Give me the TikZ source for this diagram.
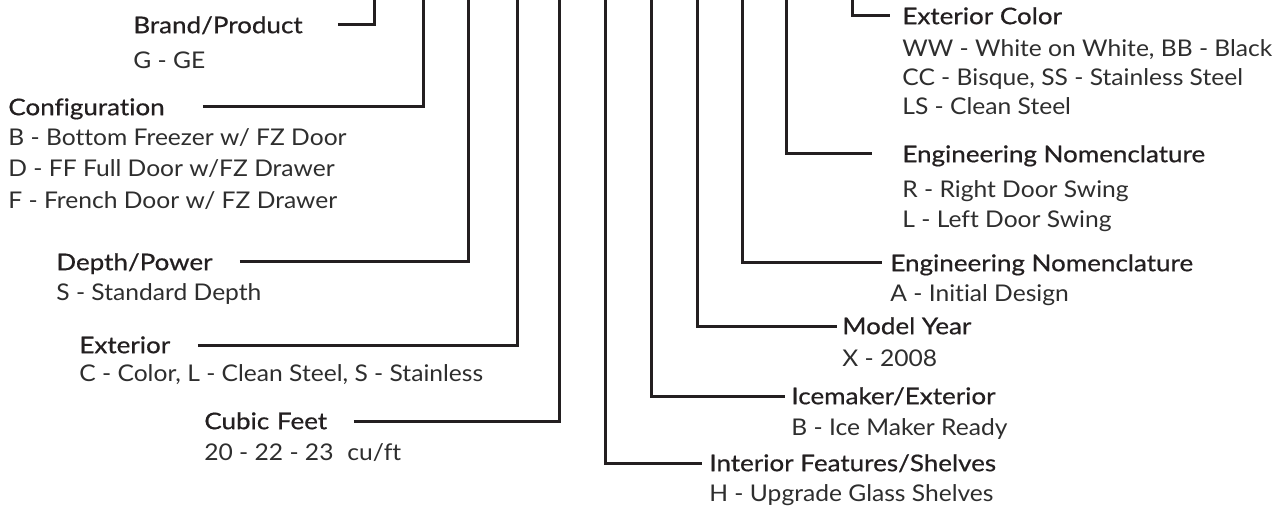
\documentclass[tikz,border=0pt]{standalone}
\usepackage{fontspec}
\setmainfont{Lato}[FakeStretch=1.07, Ligatures=NoCommon]
\newfontfamily\titlefont{Lato}[FakeBold=0.6, FakeStretch=1.13, Ligatures=NoCommon]
\definecolor{ink}{HTML}{231F20}
\definecolor{valc}{HTML}{2E2E2E}
\begin{document}
\begin{tikzpicture}[x=0.5pt,y=-0.5pt,
  conn/.style={line width=1.5pt, draw=ink, line cap=butt, line join=miter},
  lab/.style={inner sep=0pt, anchor=west, text height=11.2pt, text depth=3pt, align=left},
  ttl/.style={lab, text=ink, font=\fontsize{11.5}{13}\titlefont},
  val/.style={lab, text=valc, font=\fontsize{11.5}{13}\selectfont},
]
\useasboundingbox[fill=white] (0,0) rectangle (1287,508);

% top ends of the vertical leads
\coordinate (tBrand) at (374,0);
\coordinate (tConfig) at (423,0);
\coordinate (tDepth) at (468,0);
\coordinate (tExt) at (517,0);
\coordinate (tCubic) at (559,0);
\coordinate (tInt) at (605,0);
\coordinate (tIce) at (651,0);
\coordinate (tYear) at (697,0);
\coordinate (tEngA) at (742,0);
\coordinate (tEngR) at (786,0);
\coordinate (tColor) at (852,0);

% left titles
\node[ttl, text width=102pt] (brand) at (133,25) {Brand/Product};
\node[ttl, text width=97pt] (config) at (8,107) {Configuration};
\node[ttl, text width=91.5pt] (depth) at (56,262) {Depth/Power};
\node[ttl, text width=59pt] (exter) at (79,345) {Exterior};
\node[ttl, text width=74.5pt] (cubic) at (204,421) {Cubic Feet};

% left values
\node[val] (brandG) at (133,60) {G - GE};
\node[val] (cfgB) at (8,137) {B - Bottom Freezer w/ FZ Door};
\node[val] (cfgD) at (8,168) {D - FF Full Door w/FZ Drawer};
\node[val] (cfgF) at (8,200) {F - French Door w/ FZ Drawer};
\node[val] (depthS) at (56,292) {S - Standard Depth};
\node[val] (exterC) at (79,373) {C - Color, L - Clean Steel, S - Stainless};
\node[val] (cubicV) at (204,452) {20 - 22 - 23\hspace{0.6em}cu/ft};

% right titles
\node[ttl] (color) at (902,16) {Exterior Color};
\node[ttl] (engR) at (902,154) {Engineering Nomenclature};
\node[ttl] (engA) at (890,263) {Engineering Nomenclature};
\node[ttl] (year) at (842,326) {Model Year};
\node[ttl] (ice) at (791,396) {Icemaker/Exterior};
\node[ttl] (inter) at (709,463) {Interior Features/Shelves};

% right values
\node[val] (colorW) at (902,48) {WW - White on White, BB - Black};
\node[val] (colorC) at (902,77) {CC - Bisque, SS - Stainless Steel};
\node[val] (colorL) at (902,106) {LS - Clean Steel};
\node[val] (engRR) at (902,189) {R - Right Door Swing};
\node[val] (engRL) at (902,219) {L - Left Door Swing};
\node[val] (engAA) at (890,293) {A - Initial Design};
\node[val] (yearX) at (842,358) {X - 2008};
\node[val] (iceB) at (791,427) {B - Ice Maker Ready};
\node[val] (interH) at (709,493) {H - Upgrade Glass Shelves};

% connectors
\draw[conn] (brand.east) -| (tBrand);
\draw[conn] (config.east) -| (tConfig);
\draw[conn] (depth.east) -| (tDepth);
\draw[conn] (exter.east) -| (tExt);
\draw[conn] (cubic.east) -| (tCubic);
\draw[conn] (tInt) |- ([xshift=-3.5pt]inter.west);
\draw[conn] (tIce) |- ([xshift=-3pt]ice.west);
\draw[conn] (tYear) |- ([xshift=-2.5pt]year.west);
\draw[conn] (tEngA) |- ([xshift=-4pt]engA.west);
\draw[conn] (tEngR) |- ([xshift=-15pt]engR.west);
\draw[conn] (tColor) |- ([xshift=-6pt]color.west);
\end{tikzpicture}
\end{document}
